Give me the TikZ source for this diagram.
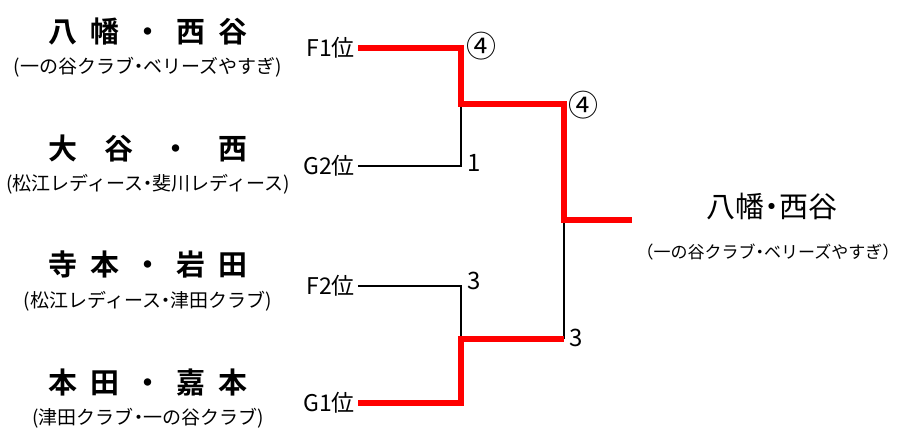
\documentclass[tikz,border=0pt]{standalone}
\usepackage{fontspec}
\setmainfont{Noto Sans CJK JP}[BoldFont={Noto Sans CJK JP Bold}]
\usepackage{xcolor}
\newcommand{\nakaten}{\makebox[0.5em]{・}}

\begin{document}
\begin{tikzpicture}[x=1pt,y=-1pt,
  pair/.style={font=\bfseries\fontsize{29}{32}\selectfont, inner sep=0pt},
  club/.style={font=\fontsize{19}{21}\selectfont, inner sep=0pt},
  seed/.style={anchor=east, font=\fontsize{23}{25}\selectfont, inner sep=3pt},
  score/.style={anchor=west, font=\fontsize{24}{26}\selectfont, inner sep=0pt},
  sets/.style={score, font=\fontsize{30}{32}\selectfont},
  lose/.style={line width=2.6pt, black},
  win/.style={line width=6pt, red, line join=miter}]
\useasboundingbox (0,0) rectangle (903,432);

% entries
\node[pair] (n1) at (148,32) {\makebox[200pt]{八\hfill 幡\hfill ・\hfill 西\hfill 谷}};
\node[club] (c1) at (148,67) {(一の谷クラブ\nakaten ベリーズやすぎ)};
\node[pair] (n2) at (148,148) {\makebox[200pt]{大\hfill 谷\hfill ・\hfill 西}};
\node[club] (c2) at (148,184) {(松江レディース\nakaten 斐川レディース)};
\node[pair] (n3) at (148,264) {\makebox[200pt]{寺\hfill 本\hfill ・\hfill 岩\hfill 田}};
\node[club] (c3) at (148,301) {(松江レディース\nakaten 津田クラブ)};
\node[pair] (n4) at (148,383) {\makebox[200pt]{本\hfill 田\hfill ・\hfill 嘉\hfill 本}};
\node[club] (c4) at (148,418) {(津田クラブ\nakaten 一の谷クラブ)};

\node[seed] (f1) at (358,48) {F1位};
\node[seed] (g2) at (358,166) {G2位};
\node[seed] (f2) at (358,286) {F2位};
\node[seed] (g1) at (358,403) {G1位};

% bracket points
\coordinate (s1) at (461,104);
\coordinate (s2) at (461,339);
\coordinate (fin) at (564,220);
\coordinate (end) at (632,220);

\draw[lose] (g2.east) -- (g2.east -| s1) -- (s1);
\draw[lose] (f2.east) -- (f2.east -| s2) -- (s2);
\draw[lose] (fin) -- (fin |- s2);

\draw[win] (f1.east) -- (f1.east -| s1) -- (s1) -- (s1 -| fin) -- (fin) -- (end);
\draw[win] (g1.east) -- (g1.east -| s2) -- (s2) -- (s2 -| fin);

% scores
\node[sets] (p1) at (466,46) {④};
\node[score] (p2) at (467,163) {1};
\node[score] (p3) at (467,281) {3};
\node[sets] (q1) at (568,105) {④};
\node[score] (q2) at (569,338) {3};

% winner
\node[font=\fontsize{29}{31}\selectfont, inner sep=0pt] (w) at (772,207) {八幡\makebox[0.5em]{・}西谷};
\node[font=\fontsize{17}{19}\selectfont, inner sep=0pt] (wc) at (768,252) {（一の谷クラブ\nakaten ベリーズやすぎ）};
\end{tikzpicture}
\end{document}
